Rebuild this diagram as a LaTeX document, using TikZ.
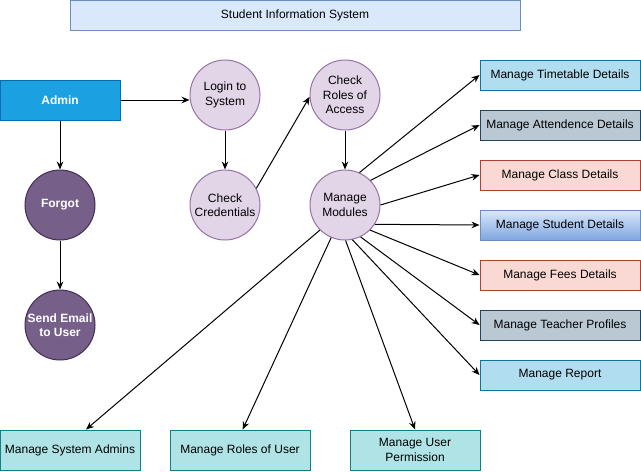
\documentclass[tikz,border=0pt]{standalone}
\usepackage{fontspec}
\setmainfont{Liberation Sans}
\usetikzlibrary{arrows.meta}
\definecolor{titlefill}{HTML}{DAE8FC}
\definecolor{titleline}{HTML}{6C8EBF}
\definecolor{adminfill}{HTML}{1BA1E2}
\definecolor{adminline}{HTML}{006EAF}
\definecolor{darkfill}{HTML}{76608A}
\definecolor{darkline}{HTML}{432D57}
\definecolor{lightfill}{HTML}{E1D5E7}
\definecolor{lightline}{HTML}{9673A6}
\definecolor{bluefill}{HTML}{B1DDF0}
\definecolor{blueline}{HTML}{10739E}
\definecolor{grayfill}{HTML}{BAC8D3}
\definecolor{grayline}{HTML}{23445D}
\definecolor{redfill}{HTML}{FAD9D5}
\definecolor{redline}{HTML}{AE4132}
\definecolor{gradbot}{HTML}{7EA6E0}
\definecolor{tealfill}{HTML}{B0E3E6}
\definecolor{tealline}{HTML}{0E8088}
\tikzset{
  base/.style={font=\fontsize{9pt}{10.8pt}\selectfont, align=center, inner sep=0pt, line width=0.75pt},
  circ/.style={base, circle, minimum size=52.5pt},
  lightcirc/.style={circ, draw=lightline, fill=lightfill},
  darkcirc/.style={circ, draw=darkline, fill=darkfill, text=white, font=\fontsize{9pt}{10.8pt}\selectfont\bfseries},
  rbox/.style={base, rectangle, minimum width=120pt, minimum height=22.5pt},
  bbox/.style={base, rectangle, minimum width=105pt, minimum height=30pt, draw=tealline, fill=tealfill},
  conn/.style={line width=0.75pt, -{Stealth[length=6pt, width=5pt, inset=2pt]}},
}
\begin{document}
\begin{tikzpicture}[x=0.75pt, y=-0.75pt]
\useasboundingbox (0,0) rectangle (641,471);
\node[base, draw=titleline, fill=titlefill, minimum width=337.5pt, minimum height=22.5pt] (title) at (295,15) {Student Information System};
\node[base, draw=adminline, fill=adminfill, text=white, minimum width=90pt, minimum height=30pt, font=\fontsize{9pt}{10.8pt}\selectfont\bfseries] (admin) at (60,100) {Admin};
\node[darkcirc] (forgot) at (60,205) {Forgot};
\node[darkcirc] (email) at (60,325) {Send Email\\to User};
\node[lightcirc] (login) at (225,95) {Login to\\System};
\node[lightcirc] (cc) at (225,205) {Check\\Credentials};
\node[lightcirc] (cr) at (345,95) {Check\\Roles of\\Access};
\node[lightcirc] (mm) at (345,205) {Manage\\Modules};
\node[rbox, draw=blueline, fill=bluefill] (tt) at (560,75) {Manage Timetable Details};
\node[rbox, draw=grayline, fill=grayfill] (att) at (560,125) {Manage Attendence Details};
\node[rbox, draw=redline, fill=redfill] (cls) at (560,175) {Manage Class Details};
\node[rbox, draw=titleline, top color=titlefill, bottom color=gradbot] (stu) at (560,225) {Manage Student Details};
\node[rbox, draw=redline, fill=redfill] (fee) at (560,275) {Manage Fees Details};
\node[rbox, draw=grayline, fill=grayfill] (tea) at (560,325) {Manage Teacher Profiles};
\node[rbox, draw=blueline, fill=bluefill] (rep) at (560,375) {Manage Report};
\node[bbox] (sa) at (70,450) {Manage System Admins};
\node[bbox] (ru) at (240,450) {Manage Roles of User};
\node[bbox, minimum width=97.5pt] (up) at (415,450) {Manage User\\Permission};
\draw[conn] (admin.east) -- (login.west |- admin.east);
\draw[conn] (admin) -- (forgot);
\draw[conn] (forgot) -- (email);
\draw[conn] (login) -- (cc);
\draw[conn] (cc.28) -- (cr.183);
\draw[conn] (cr) -- (mm);
\draw[conn] (mm.66) -- (tt.west);
\draw[conn] (mm.44) -- (att.west);
\draw[conn] (mm.0) -- (cls.west);
\draw[conn] (mm.-33) -- (stu.west);
\draw[conn] (mm.-45) -- (fee.west);
\draw[conn] (mm.-64) -- (tea.west);
\draw[conn] (mm.-78) -- (rep.west);
\draw[conn] (mm.-89) -- (up.north);
\draw[conn] (mm.-113) -- ([xshift=2]ru.north);
\draw[conn] (mm.-135) -- ([xshift=12]sa.north);
\end{tikzpicture}
\end{document}
